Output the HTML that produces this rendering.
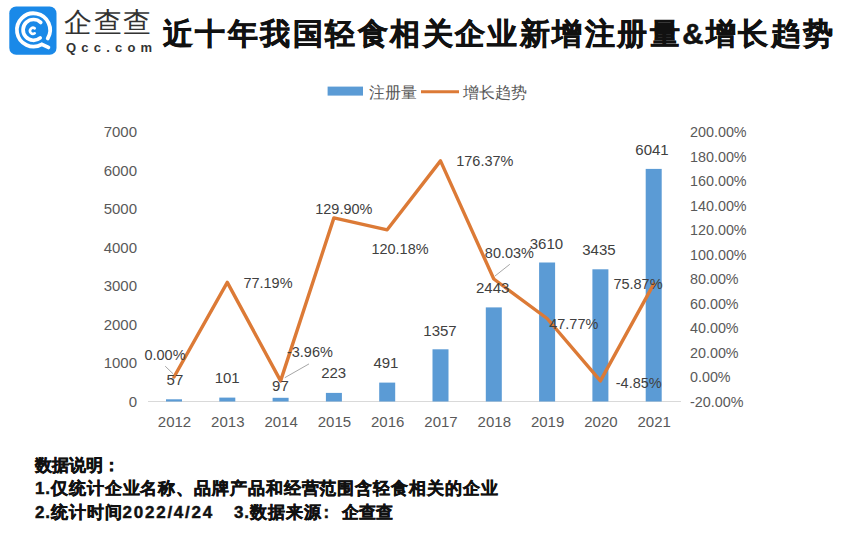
<!DOCTYPE html>
<html><head><meta charset="utf-8"><style>
html,body{margin:0;padding:0;background:#fff;width:864px;height:546px;overflow:hidden}
body{position:relative;font-family:"Liberation Sans",sans-serif}
svg{position:absolute;left:0;top:0}
.ax{font-size:15px;fill:#595959;font-family:"Liberation Sans",sans-serif}
.dl{font-size:15px;fill:#404040;font-family:"Liberation Sans",sans-serif}
.lg{font-size:15.6px;fill:#595959;font-family:"Liberation Sans",sans-serif}
.t{position:absolute;white-space:nowrap}
#title{left:163px;top:15px;font-size:29.5px;font-weight:900;color:#111;letter-spacing:2.45px;-webkit-text-stroke:0.55px #111}
#brand{left:64px;top:4px;font-size:28px;color:#333;letter-spacing:1.6px;font-weight:300}
#qcc{left:66px;top:40px;font-size:13px;color:#333;letter-spacing:5.2px;font-weight:bold}
.note{font-size:17px;font-weight:bold;color:#111;left:35px;line-height:20px;letter-spacing:0.9px;-webkit-text-stroke:0.45px #111}
.dg{letter-spacing:1.75px}
</style></head><body>
<svg width="864" height="546" viewBox="0 0 864 546">
<line x1="148" y1="401.5" x2="681" y2="401.5" stroke="#d9d9d9" stroke-width="1"/>
<rect x="166.0" y="399.3" width="16" height="2.2" fill="#5b9bd5"/>
<rect x="219.3" y="397.6" width="16" height="3.9" fill="#5b9bd5"/>
<rect x="272.6" y="397.8" width="16" height="3.7" fill="#5b9bd5"/>
<rect x="325.9" y="392.9" width="16" height="8.6" fill="#5b9bd5"/>
<rect x="379.2" y="382.6" width="16" height="18.9" fill="#5b9bd5"/>
<rect x="432.5" y="349.3" width="16" height="52.2" fill="#5b9bd5"/>
<rect x="485.8" y="307.4" width="16" height="94.1" fill="#5b9bd5"/>
<rect x="539.1" y="262.5" width="16" height="139.0" fill="#5b9bd5"/>
<rect x="592.4" y="269.3" width="16" height="132.2" fill="#5b9bd5"/>
<rect x="645.7" y="168.9" width="16" height="232.6" fill="#5b9bd5"/>
<polyline points="174.0,377.0 227.3,282.4 280.6,380.9 333.9,217.9 387.2,229.8 440.5,160.9 493.8,279.0 547.1,318.5 600.4,380.9 653.7,284.1" fill="none" stroke="#dc7a36" stroke-width="3.4" stroke-linejoin="round" stroke-linecap="round"/>
<text x="137" y="406.9" text-anchor="end" class="ax">0</text>
<text x="137" y="368.4" text-anchor="end" class="ax">1000</text>
<text x="137" y="329.9" text-anchor="end" class="ax">2000</text>
<text x="137" y="291.4" text-anchor="end" class="ax">3000</text>
<text x="137" y="252.8" text-anchor="end" class="ax">4000</text>
<text x="137" y="214.3" text-anchor="end" class="ax">5000</text>
<text x="137" y="175.8" text-anchor="end" class="ax">6000</text>
<text x="137" y="137.3" text-anchor="end" class="ax">7000</text>
<text x="690" y="406.9" class="ax" textLength="53.4" lengthAdjust="spacingAndGlyphs">-20.00%</text>
<text x="690" y="382.4" class="ax" textLength="40.6" lengthAdjust="spacingAndGlyphs">0.00%</text>
<text x="690" y="357.9" class="ax" textLength="48.6" lengthAdjust="spacingAndGlyphs">20.00%</text>
<text x="690" y="333.4" class="ax" textLength="48.6" lengthAdjust="spacingAndGlyphs">40.00%</text>
<text x="690" y="308.9" class="ax" textLength="48.6" lengthAdjust="spacingAndGlyphs">60.00%</text>
<text x="690" y="284.4" class="ax" textLength="48.6" lengthAdjust="spacingAndGlyphs">80.00%</text>
<text x="690" y="259.9" class="ax" textLength="56.6" lengthAdjust="spacingAndGlyphs">100.00%</text>
<text x="690" y="235.3" class="ax" textLength="56.6" lengthAdjust="spacingAndGlyphs">120.00%</text>
<text x="690" y="210.8" class="ax" textLength="56.6" lengthAdjust="spacingAndGlyphs">140.00%</text>
<text x="690" y="186.3" class="ax" textLength="56.6" lengthAdjust="spacingAndGlyphs">160.00%</text>
<text x="690" y="161.8" class="ax" textLength="56.6" lengthAdjust="spacingAndGlyphs">180.00%</text>
<text x="690" y="137.3" class="ax" textLength="56.6" lengthAdjust="spacingAndGlyphs">200.00%</text>
<text x="174.5" y="426.9" text-anchor="middle" class="ax">2012</text>
<text x="227.8" y="426.9" text-anchor="middle" class="ax">2013</text>
<text x="281.1" y="426.9" text-anchor="middle" class="ax">2014</text>
<text x="334.4" y="426.9" text-anchor="middle" class="ax">2015</text>
<text x="387.7" y="426.9" text-anchor="middle" class="ax">2016</text>
<text x="441.0" y="426.9" text-anchor="middle" class="ax">2017</text>
<text x="494.3" y="426.9" text-anchor="middle" class="ax">2018</text>
<text x="547.6" y="426.9" text-anchor="middle" class="ax">2019</text>
<text x="600.9" y="426.9" text-anchor="middle" class="ax">2020</text>
<text x="654.2" y="426.9" text-anchor="middle" class="ax">2021</text>
<text x="174.9" y="384.9" text-anchor="middle" class="dl">57</text>
<text x="227.2" y="383.2" text-anchor="middle" class="dl">101</text>
<text x="280.4" y="391.2" text-anchor="middle" class="dl">97</text>
<text x="333.7" y="378.4" text-anchor="middle" class="dl">223</text>
<text x="385.9" y="368.2" text-anchor="middle" class="dl">491</text>
<text x="440" y="335.5" text-anchor="middle" class="dl">1357</text>
<text x="492.7" y="292.8" text-anchor="middle" class="dl">2443</text>
<text x="546.4" y="248.5" text-anchor="middle" class="dl">3610</text>
<text x="598.9" y="255.2" text-anchor="middle" class="dl">3435</text>
<text x="652" y="154.5" text-anchor="middle" class="dl">6041</text>
<text x="165" y="360.2" text-anchor="middle" class="dl" textLength="41.0" lengthAdjust="spacingAndGlyphs">0.00%</text>
<text x="268" y="287.6" text-anchor="middle" class="dl" textLength="49.1" lengthAdjust="spacingAndGlyphs">77.19%</text>
<text x="309.9" y="357.1" text-anchor="middle" class="dl" textLength="45.9" lengthAdjust="spacingAndGlyphs">-3.96%</text>
<text x="343.8" y="214.2" text-anchor="middle" class="dl" textLength="57.1" lengthAdjust="spacingAndGlyphs">129.90%</text>
<text x="400" y="253.9" text-anchor="middle" class="dl" textLength="57.1" lengthAdjust="spacingAndGlyphs">120.18%</text>
<text x="484.8" y="166.4" text-anchor="middle" class="dl" textLength="57.1" lengthAdjust="spacingAndGlyphs">176.37%</text>
<text x="509.4" y="258.4" text-anchor="middle" class="dl" textLength="49.1" lengthAdjust="spacingAndGlyphs">80.03%</text>
<text x="573.8" y="329.2" text-anchor="middle" class="dl" textLength="49.1" lengthAdjust="spacingAndGlyphs">47.77%</text>
<text x="638.7" y="387.8" text-anchor="middle" class="dl" textLength="45.9" lengthAdjust="spacingAndGlyphs">-4.85%</text>
<text x="638" y="289.0" text-anchor="middle" class="dl" textLength="49.1" lengthAdjust="spacingAndGlyphs">75.87%</text>
<line x1="165.2" y1="366.2" x2="173" y2="373.7" stroke="#a6a6a6" stroke-width="1"/>
<line x1="309" y1="363.9" x2="284.8" y2="377.7" stroke="#a6a6a6" stroke-width="1"/>
<line x1="509.8" y1="264.3" x2="495" y2="276" stroke="#a6a6a6" stroke-width="1"/>
<rect x="327.6" y="86.6" width="35.4" height="9" fill="#5b9bd5"/>
<text x="369" y="97.5" class="lg">注册量</text>
<line x1="421" y1="91.7" x2="459" y2="91.7" stroke="#dc7a36" stroke-width="3"/>
<text x="463" y="97.5" class="lg">增长趋势</text>

<rect x="9.3" y="6.5" width="47.2" height="48.2" rx="6.8" fill="#1a89e8"/>
<path d="M47.73 38.45 A16.6 16.6 0 1 0 41.80 44.28 L48.4 47.4" fill="none" stroke="#fff" stroke-width="3.8" stroke-linecap="round" stroke-linejoin="miter"/>
<path d="M40.72 22.42 A10.4 10.4 0 1 0 40.18 37.87" fill="none" stroke="#fff" stroke-width="3.7" stroke-linecap="round"/>
<path d="M34.72 28.34 A3.0 3.0 0 1 0 34.72 33.26" fill="none" stroke="#fff" stroke-width="2.6" stroke-linecap="round"/>

</svg>
<div class="t" id="brand">企查查</div>
<div class="t" id="qcc">Qcc.com</div>
<div class="t" id="title">近十年我国轻食相关企业新增注册量&amp;增长趋势</div>
<div class="t note" style="top:456px;letter-spacing:0">数据说明：</div>
<div class="t note" style="top:478.5px">1.仅统计企业名称、品牌产品和经营范围含轻食相关的企业</div>
<div class="t note" style="top:503px">2.统计时间<span class="dg">2022/4/24</span></div>
<div class="t note" style="top:503px;left:234px">3.数据来源<span style="margin-left:2px">:</span></div>
<div class="t note" style="top:503px;left:342px;letter-spacing:0">企查查</div>
</body></html>
